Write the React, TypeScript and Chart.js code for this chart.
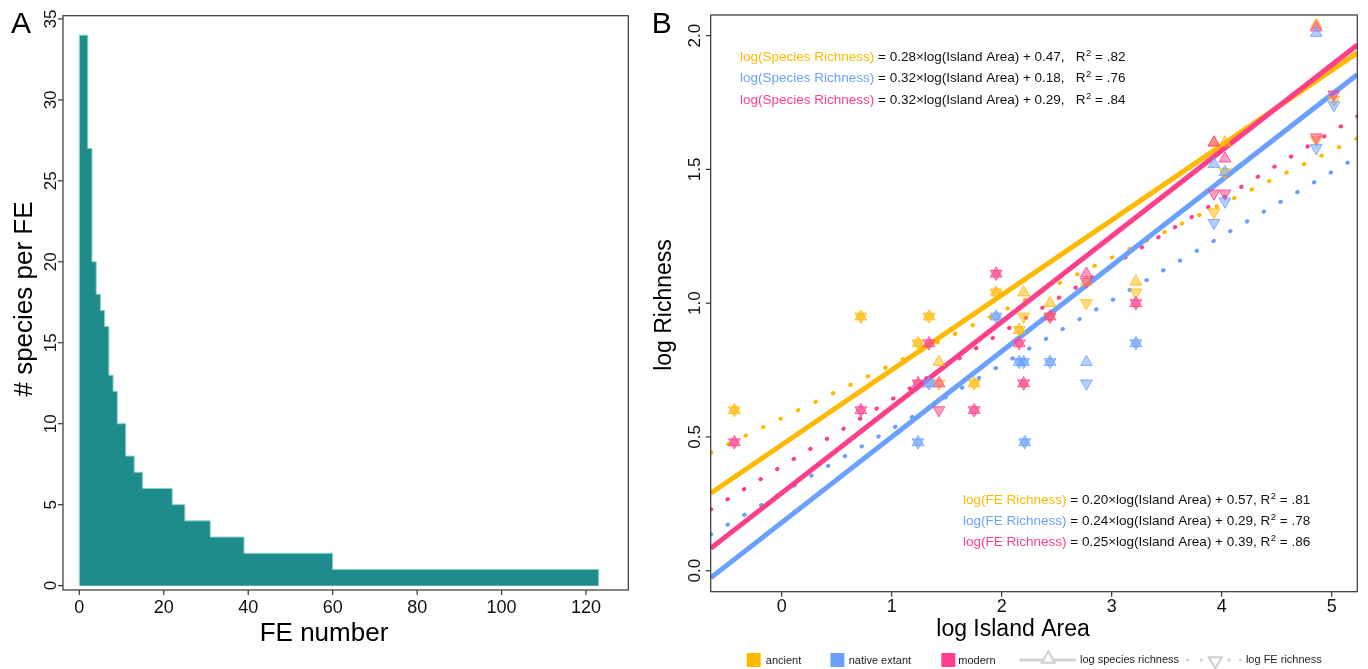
import React, { useEffect, useRef } from "react";
import { Chart, registerables } from "chart.js";

Chart.register(...registerables);

const FONT = '"Liberation Sans", Arial, Helvetica, sans-serif';

// ---------------- Panel A data ----------------
const feStepStart = [0, 2, 3, 4, 5, 6, 7, 8, 9, 11, 13, 15, 22, 25, 31, 39, 60];
const feStepSpecies = [34, 27, 20, 18, 17, 16, 13, 12, 10, 8, 7, 6, 5, 4, 3, 2, 1];
const feTotal = 123;
const histXTicks = [0, 20, 40, 60, 80, 100, 120];
const histYTicks = [0, 5, 10, 15, 20, 25, 30, 35];

// ---------------- Panel B data ----------------
const groupNames = ["ancient", "native extant", "modern"];
const groupColors = [
  [255, 185, 0],
  [106, 160, 255],
  [255, 62, 140],
];
const speciesSlope = [0.28, 0.32, 0.32];
const speciesIntercept = [0.47, 0.18, 0.29];
const speciesR2 = [".82", ".76", ".84"];
const feSlope = [0.2, 0.24, 0.25];
const feIntercept = [0.57, 0.29, 0.39];
const feR2 = [".81", ".78", ".86"];

const ancientArea = [-0.43, 0.72, 1.24, 1.34, 1.43, 1.75, 1.95, 2.16, 2.2, 2.44, 2.77, 3.22, 3.93, 4.03, 4.86, 5.02];
const ancientSpecies = [0.6, 0.95, 0.85, 0.95, 0.78, 0.7, 1.04, 0.9, 1.04, 1.0, 1.08, 1.08, 1.6, 1.6, 2.04, null];
const ancientFE = [0.6, 0.95, 0.85, 0.95, 0.7, 0.7, 1.04, 0.9, 0.95, 0.95, 1.0, 1.04, 1.34, 1.49, 1.61, 1.76];

const nativeArea = [1.24, 1.34, 1.95, 2.16, 2.2, 2.21, 2.44, 2.77, 3.22, 3.93, 4.03, 4.86, 5.02];
const nativeSpecies = [0.48, 0.7, 0.95, 0.78, 0.78, 0.48, 0.78, 0.78, 0.85, 1.52, 1.49, 2.01, null];
const nativeFE = [0.48, 0.7, 0.95, 0.78, 0.78, 0.48, 0.78, 0.7, 0.85, 1.3, 1.38, 1.58, 1.74];

const modernArea = [-0.43, 0.72, 1.24, 1.34, 1.43, 1.75, 1.95, 2.16, 2.2, 2.44, 2.77, 3.22, 3.93, 4.03, 4.86, 5.02];
const modernSpecies = [0.48, 0.6, 0.7, 0.85, 0.7, 0.6, 1.11, 0.85, 0.7, 0.95, 1.11, 1.0, 1.6, 1.54, 2.03, null];
const modernFE = [0.48, 0.6, 0.7, 0.85, 0.6, 0.6, 1.11, 0.85, 0.7, 0.95, 1.08, 1.0, 1.41, 1.41, 1.62, 1.78];

const areaTicks = [0, 1, 2, 3, 4, 5];
const richnessTicks = [0, 0.5, 1, 1.5, 2];

const AREA_MIN = -0.645;
const AREA_MAX = 5.233;
const RICH_MIN = -0.0785;
const RICH_MAX = 2.077;

const rgba = (c: number[], a: number) => `rgba(${c[0]},${c[1]},${c[2]},${a})`;

function drawRotated(ctx: CanvasRenderingContext2D, text: string, x: number, y: number) {
  ctx.save();
  ctx.translate(x, y);
  ctx.rotate(-Math.PI / 2);
  ctx.fillText(text, 0, 0);
  ctx.restore();
}

function drawFrame(
  chart: any,
  xTicks: number[],
  yTicks: number[],
  xFmt: (v: number) => string,
  yFmt: (v: number) => string,
  xLabelY: number,
  yLabelX: number
) {
  const { ctx, chartArea: a, scales } = chart;
  const x = scales.x;
  const y = scales.y;
  ctx.save();
  ctx.strokeStyle = "#333";
  ctx.lineWidth = 1.2;
  ctx.strokeRect(a.left, a.top, a.right - a.left, a.bottom - a.top);
  ctx.fillStyle = "#111";
  ctx.font = `18px ${FONT}`;
  ctx.textAlign = "center";
  ctx.textBaseline = "middle";
  xTicks.forEach((v) => {
    const px = x.getPixelForValue(v);
    ctx.beginPath();
    ctx.moveTo(px, a.bottom);
    ctx.lineTo(px, a.bottom + 5);
    ctx.stroke();
    ctx.fillText(xFmt(v), px, xLabelY);
  });
  ctx.font = `17px ${FONT}`;
  yTicks.forEach((v) => {
    const py = y.getPixelForValue(v);
    ctx.beginPath();
    ctx.moveTo(a.left - 5, py);
    ctx.lineTo(a.left, py);
    ctx.stroke();
    drawRotated(ctx, yFmt(v), yLabelX, py);
  });
  ctx.restore();
}

const leftPlugin = {
  id: "leftFrame",
  afterDraw(chart: any) {
    const ctx = chart.ctx;
    drawFrame(chart, histXTicks, histYTicks, (v) => String(v), (v) => String(v), 608, 51.5);
    ctx.save();
    ctx.fillStyle = "#000";
    ctx.font = `30px ${FONT}`;
    ctx.textAlign = "left";
    ctx.textBaseline = "alphabetic";
    ctx.fillText("A", 11, 33);
    ctx.font = `26px ${FONT}`;
    ctx.textAlign = "center";
    ctx.fillText("FE number", 324, 641);
    ctx.textBaseline = "middle";
    drawRotated(ctx, "# species per FE", 25, 299);
    ctx.restore();
  },
};

function drawEquation(
  ctx: CanvasRenderingContext2D,
  x: number,
  y: number,
  label: string,
  color: string,
  rest: string,
  r2: string
) {
  ctx.textAlign = "left";
  ctx.textBaseline = "alphabetic";
  ctx.font = `13.5px ${FONT}`;
  ctx.fillStyle = color;
  ctx.fillText(label, x, y);
  x += ctx.measureText(label).width;
  ctx.fillStyle = "#111";
  ctx.fillText(rest, x, y);
  x += ctx.measureText(rest).width;
  ctx.fillText("R", x, y);
  x += ctx.measureText("R").width;
  ctx.font = `9.5px ${FONT}`;
  ctx.fillText("2", x + 0.5, y - 5);
  x += ctx.measureText("2").width + 0.5;
  ctx.font = `13.5px ${FONT}`;
  ctx.fillText(" = " + r2, x, y);
}

function triPath(ctx: CanvasRenderingContext2D, cx: number, cy: number, r: number, up: boolean) {
  const s = up ? 1 : -1;
  ctx.beginPath();
  ctx.moveTo(cx, cy - s * r);
  ctx.lineTo(cx + r * 0.866, cy + s * r * 0.5);
  ctx.lineTo(cx - r * 0.866, cy + s * r * 0.5);
  ctx.closePath();
}

const rightPlugin = {
  id: "rightFrame",
  afterDraw(chart: any) {
    const ctx = chart.ctx as CanvasRenderingContext2D;
    drawFrame(chart, areaTicks, richnessTicks, (v) => String(v), (v) => v.toFixed(1), 607.5, 55);
    ctx.save();
    ctx.fillStyle = "#000";
    ctx.font = `30px ${FONT}`;
    ctx.textAlign = "left";
    ctx.textBaseline = "alphabetic";
    ctx.fillText("B", 11.7, 33);
    ctx.font = `23px ${FONT}`;
    ctx.textAlign = "center";
    ctx.fillText("log Island Area", 373, 636);
    ctx.textBaseline = "middle";
    drawRotated(ctx, "log Richness", 25, 305);

    // equations
    const topBase = [60.5, 82, 103.5];
    groupNames.forEach((_, i) => {
      drawEquation(
        ctx,
        100,
        topBase[i],
        "log(Species Richness)",
        rgba(groupColors[i], 1),
        ` = ${speciesSlope[i].toFixed(2)}\u00d7log(Island Area) + ${speciesIntercept[i].toFixed(2)},   `,
        speciesR2[i]
      );
    });
    const botBase = [503.5, 524.5, 545.5];
    groupNames.forEach((_, i) => {
      drawEquation(
        ctx,
        323,
        botBase[i],
        "log(FE Richness)",
        rgba(groupColors[i], 1),
        ` = ${feSlope[i].toFixed(2)}\u00d7log(Island Area) + ${feIntercept[i].toFixed(2)}, `,
        feR2[i]
      );
    });

    // legend
    const ly = 660;
    const sqX = [106.7, 190.4, 301.3];
    const txX = [125.8, 208.7, 318.3];
    ctx.font = `11px ${FONT}`;
    ctx.textAlign = "left";
    ctx.textBaseline = "middle";
    groupNames.forEach((name, i) => {
      ctx.fillStyle = rgba(groupColors[i], 1);
      ctx.fillRect(sqX[i], ly - 7, 14, 14);
      ctx.fillStyle = "#222";
      ctx.fillText(name, txX[i], ly + 1);
    });
    ctx.strokeStyle = "#d3d3d3";
    ctx.lineWidth = 3;
    ctx.beginPath();
    ctx.moveTo(379.5, ly);
    ctx.lineTo(436, ly);
    ctx.stroke();
    ctx.lineWidth = 2;
    triPath(ctx, 408.3, ly - 1, 7.5, true);
    ctx.fillStyle = "#fff";
    ctx.fill();
    ctx.strokeStyle = "#cfcfcf";
    ctx.stroke();
    ctx.fillStyle = "#222";
    ctx.fillText("log species richness", 440, ly);
    ctx.fillStyle = "#d3d3d3";
    [547.7, 561.3, 589, 600.4].forEach((dx) => {
      ctx.beginPath();
      ctx.arc(dx, ly, 1.6, 0, Math.PI * 2);
      ctx.fill();
    });
    triPath(ctx, 575.3, ly + 1, 7.5, false);
    ctx.fillStyle = "#fff";
    ctx.fill();
    ctx.strokeStyle = "#cfcfcf";
    ctx.stroke();
    ctx.fillStyle = "#222";
    ctx.fillText("log FE richness", 605.9, ly);
    ctx.restore();
  },
};

function markerSet(area: number[], vals: (number | null)[], color: number[], up: boolean, order: number) {
  const data = area
    .map((x, i) => ({ x, y: vals[i] }))
    .filter((p) => p.y !== null && p.y !== undefined);
  return {
    type: "scatter" as const,
    data,
    order,
    pointStyle: "triangle",
    rotation: up ? 0 : 180,
    pointRadius: 6.8,
    pointHoverRadius: 6.8,
    backgroundColor: rgba(color, 0.5),
    borderColor: rgba(color, 0.8),
    pointBackgroundColor: rgba(color, 0.5),
    pointBorderColor: rgba(color, 0.8),
    pointBorderWidth: 1,
    showLine: false,
  };
}

function fitLine(slope: number, intercept: number, color: number[], dotted: boolean, order: number) {
  return {
    type: "line" as const,
    data: [
      { x: AREA_MIN, y: slope * AREA_MIN + intercept },
      { x: AREA_MAX, y: slope * AREA_MAX + intercept },
    ],
    order,
    borderColor: rgba(color, 1),
    backgroundColor: rgba(color, 1),
    borderWidth: dotted ? 4 : 5,
    borderDash: dotted ? [0.5, 18.9] : [],
    borderCapStyle: dotted ? "round" : "butt",
    pointRadius: 0,
    fill: false,
    tension: 0,
    clip: 0,
  };
}

export default function App() {
  const leftRef = useRef<HTMLCanvasElement>(null);
  const rightRef = useRef<HTMLCanvasElement>(null);

  useEffect(() => {
    const histData = [{ x: 0, y: 0 }]
      .concat(feStepStart.map((s, i) => ({ x: s, y: feStepSpecies[i] })))
      .concat([
        { x: feTotal, y: feStepSpecies[feStepSpecies.length - 1] },
        { x: feTotal, y: 0 },
      ]);

    const left = new Chart(leftRef.current as HTMLCanvasElement, {
      type: "line",
      data: {
        datasets: [
          {
            data: histData,
            stepped: true,
            fill: "origin",
            backgroundColor: "#1e8c8a",
            borderColor: "#8fcfc9",
            borderWidth: 1,
            pointRadius: 0,
            clip: 0,
          } as any,
        ],
      },
      options: {
        animation: false,
        responsive: false,
        devicePixelRatio: 1,
        layout: { padding: { left: 63, right: 11.7, top: 15.7, bottom: 79 } },
        scales: {
          x: { type: "linear", min: -3.86, max: 130, display: false },
          y: { type: "linear", min: -0.27, max: 35.2, display: false },
        },
        plugins: { legend: { display: false }, tooltip: { enabled: false } },
      },
      plugins: [leftPlugin],
    });

    const [ca, cn, cm] = groupColors;
    const right = new Chart(rightRef.current as HTMLCanvasElement, {
      type: "scatter",
      data: {
        datasets: [
          fitLine(feSlope[0], feIntercept[0], ca, true, 100),
          fitLine(feSlope[1], feIntercept[1], cn, true, 99),
          fitLine(feSlope[2], feIntercept[2], cm, true, 98),
          fitLine(speciesSlope[0], speciesIntercept[0], ca, false, 97),
          fitLine(speciesSlope[1], speciesIntercept[1], cn, false, 96),
          fitLine(speciesSlope[2], speciesIntercept[2], cm, false, 95),
          markerSet(ancientArea, ancientSpecies, ca, true, 20),
          markerSet(ancientArea, ancientFE, ca, false, 19),
          markerSet(modernArea, modernSpecies, cm, true, 18),
          markerSet(modernArea, modernFE, cm, false, 17),
          markerSet(nativeArea, nativeSpecies, cn, true, 16),
          markerSet(nativeArea, nativeFE, cn, false, 15),
        ] as any,
      },
      options: {
        animation: false,
        responsive: false,
        devicePixelRatio: 1,
        layout: { padding: { left: 70.7, right: 10.7, top: 15, bottom: 77.3 } },
        scales: {
          x: { type: "linear", min: AREA_MIN, max: AREA_MAX, display: false },
          y: { type: "linear", min: RICH_MIN, max: RICH_MAX, display: false },
        },
        plugins: { legend: { display: false }, tooltip: { enabled: false } },
      },
      plugins: [rightPlugin],
    });

    return () => {
      left.destroy();
      right.destroy();
    };
  }, []);

  return (
    <div style={{ position: "fixed", left: 0, top: 0, width: 1368, height: 669, background: "#fff" }}>
      <canvas ref={leftRef} width={640} height={669} style={{ position: "absolute", left: 0, top: 0 }} />
      <canvas ref={rightRef} width={728} height={669} style={{ position: "absolute", left: 640, top: 0 }} />
    </div>
  );
}
